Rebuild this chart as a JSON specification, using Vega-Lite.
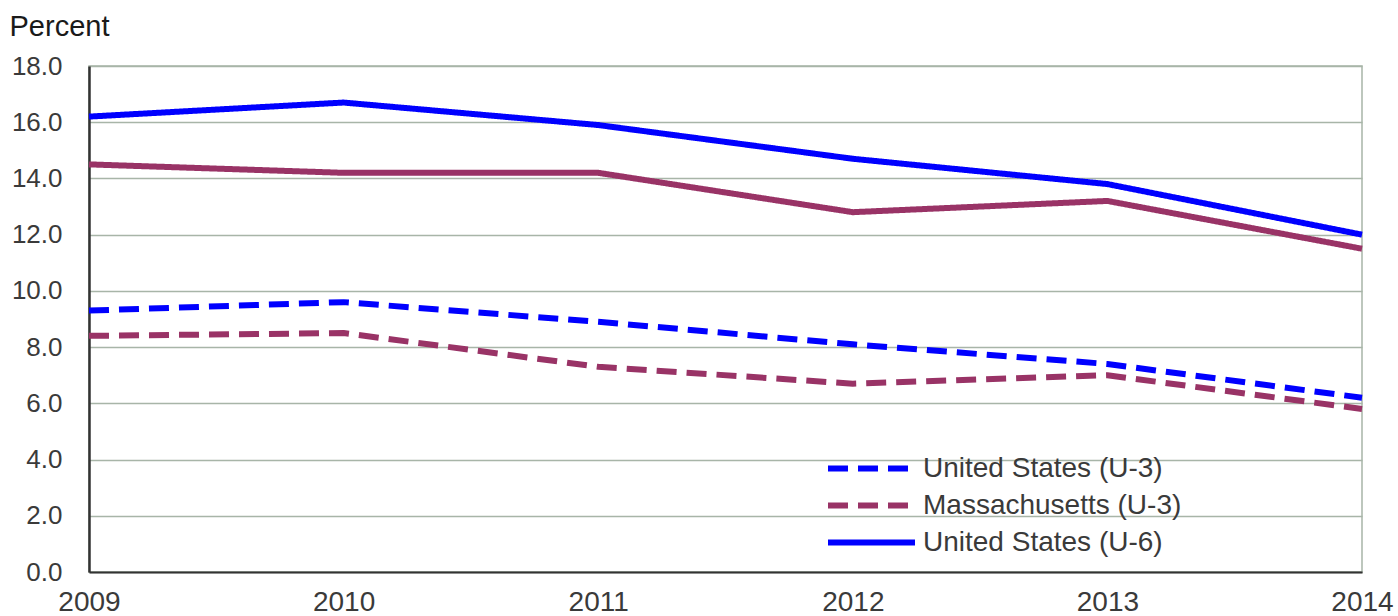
{
  "$schema": "https://vega.github.io/schema/vega-lite/v6.json",
  "width": 1273,
  "height": 506,
  "autosize": "none",
  "padding": {"left": 89, "top": 66, "right": 36, "bottom": 44},
  "background": "white",
  "config": {
    "font": "Liberation Sans",
    "view": {"stroke": "#A8B5A8", "strokeWidth": 1.5}
  },
  "data": {
    "values": [
      {"year": 2009, "series": "United States (U-3)", "value": 9.3},
      {"year": 2010, "series": "United States (U-3)", "value": 9.6},
      {"year": 2011, "series": "United States (U-3)", "value": 8.9},
      {"year": 2012, "series": "United States (U-3)", "value": 8.1},
      {"year": 2013, "series": "United States (U-3)", "value": 7.4},
      {"year": 2014, "series": "United States (U-3)", "value": 6.2},
      {"year": 2009, "series": "Massachusetts (U-3)", "value": 8.4},
      {"year": 2010, "series": "Massachusetts (U-3)", "value": 8.5},
      {"year": 2011, "series": "Massachusetts (U-3)", "value": 7.3},
      {"year": 2012, "series": "Massachusetts (U-3)", "value": 6.7},
      {"year": 2013, "series": "Massachusetts (U-3)", "value": 7.0},
      {"year": 2014, "series": "Massachusetts (U-3)", "value": 5.8},
      {"year": 2009, "series": "United States (U-6)", "value": 16.2},
      {"year": 2010, "series": "United States (U-6)", "value": 16.7},
      {"year": 2011, "series": "United States (U-6)", "value": 15.9},
      {"year": 2012, "series": "United States (U-6)", "value": 14.7},
      {"year": 2013, "series": "United States (U-6)", "value": 13.8},
      {"year": 2014, "series": "United States (U-6)", "value": 12.0},
      {"year": 2009, "series": "Massachusetts (U-6)", "value": 14.5},
      {"year": 2010, "series": "Massachusetts (U-6)", "value": 14.2},
      {"year": 2011, "series": "Massachusetts (U-6)", "value": 14.2},
      {"year": 2012, "series": "Massachusetts (U-6)", "value": 12.8},
      {"year": 2013, "series": "Massachusetts (U-6)", "value": 13.2},
      {"year": 2014, "series": "Massachusetts (U-6)", "value": 11.5}
    ]
  },
  "mark": {"type": "line", "interpolate": "linear", "strokeCap": "butt", "strokeJoin": "round"},
  "encoding": {
    "x": {
      "field": "year",
      "type": "quantitative",
      "scale": {"domain": [2009, 2014], "nice": false, "zero": false},
      "axis": {
        "values": [2009, 2010, 2011, 2012, 2013, 2014],
        "format": "d",
        "title": null,
        "grid": false,
        "ticks": false,
        "domainColor": "#333333",
        "domainWidth": 2,
        "labelFontSize": 28,
        "labelColor": "#3a3a3a",
        "labelPadding": 16,
        "labelFlush": false
      }
    },
    "y": {
      "field": "value",
      "type": "quantitative",
      "scale": {"domain": [0, 18], "nice": false},
      "axis": {
        "values": [0, 2, 4, 6, 8, 10, 12, 14, 16, 18],
        "format": ".1f",
        "title": "Percent",
        "titleAngle": 0,
        "titleX": -80,
        "titleY": -31,
        "titleAlign": "left",
        "titleBaseline": "alphabetic",
        "titleFontSize": 29,
        "titleFontWeight": "normal",
        "titleColor": "#1a1a1a",
        "grid": true,
        "gridColor": "#A8B5A8",
        "gridWidth": 1.5,
        "ticks": false,
        "domainColor": "#333333",
        "domainWidth": 2.5,
        "labelFontSize": 26,
        "labelColor": "#3a3a3a",
        "labelPadding": 27
      }
    },
    "color": {
      "field": "series",
      "type": "nominal",
      "scale": {
        "domain": ["United States (U-3)", "Massachusetts (U-3)", "United States (U-6)", "Massachusetts (U-6)"],
        "range": ["#0000FF", "#993366", "#0000FF", "#993366"]
      },
      "legend": {
        "title": null,
        "values": ["United States (U-3)", "Massachusetts (U-3)", "United States (U-6)"],
        "orient": "none",
        "legendX": 765,
        "legendY": 385,
        "symbolType": "M-3,0H3",
        "symbolSize": 841,
        "labelFontSize": 28,
        "labelColor": "#3a3a3a",
        "labelLimit": 400,
        "labelOffset": 34,
        "rowPadding": 5
      }
    },
    "strokeDash": {
      "field": "series",
      "type": "nominal",
      "scale": {
        "domain": ["United States (U-3)", "Massachusetts (U-3)", "United States (U-6)", "Massachusetts (U-6)"],
        "range": [[20, 10], [20, 10], [1, 0], [1, 0]]
      },
      "legend": null
    },
    "strokeWidth": {
      "field": "series",
      "type": "nominal",
      "scale": {
        "domain": ["United States (U-3)", "Massachusetts (U-3)", "United States (U-6)", "Massachusetts (U-6)"],
        "range": [6, 6, 3, 3]
      },
      "legend": null
    }
  }
}
